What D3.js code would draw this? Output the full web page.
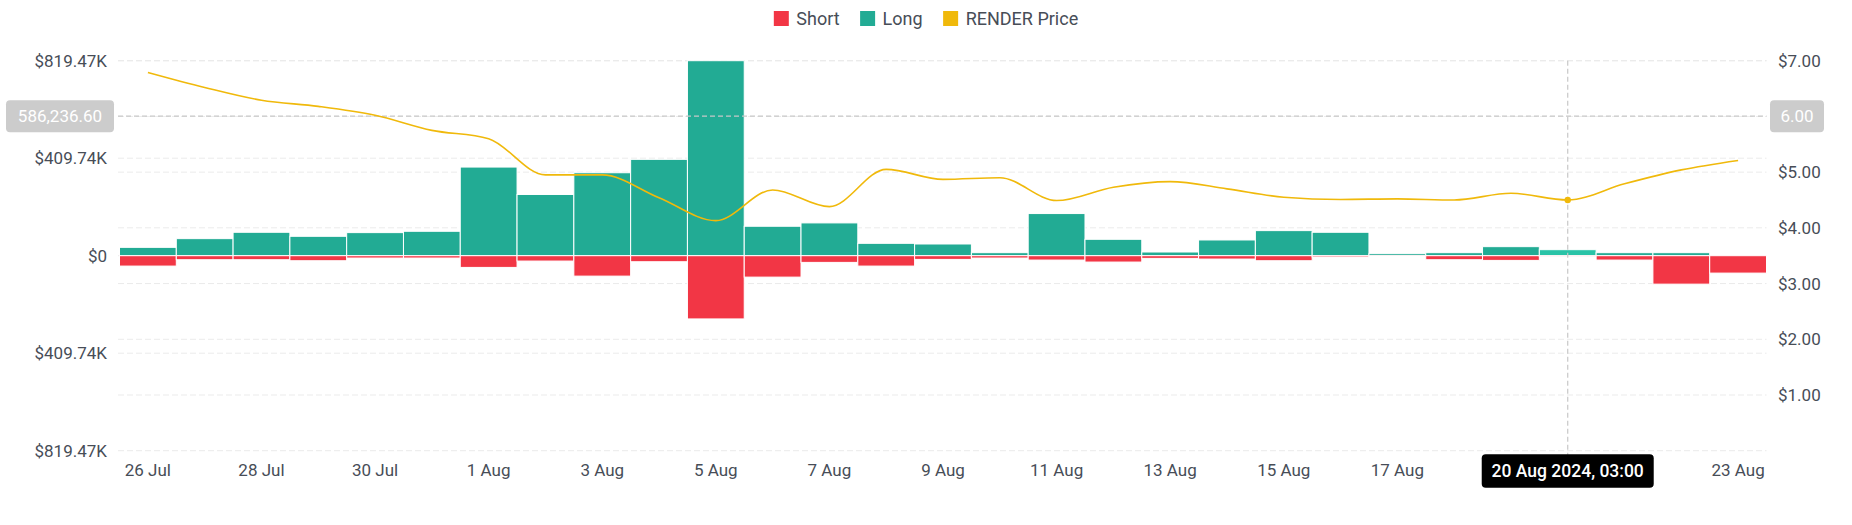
<!DOCTYPE html>
<html>
<head>
<meta charset="utf-8">
<script src="https://cdn.jsdelivr.net/npm/d3@7"></script>
<style>
  html, body { margin: 0; padding: 0; background: #ffffff; }
  svg { display: block; font-family: Roboto, "Noto Sans", sans-serif; }
</style>
</head>
<body>
<svg id="chart" width="1852" height="525"></svg>
<script>
// ---- data ----
const categories = ["2024-07-26","2024-07-27","2024-07-28","2024-07-29","2024-07-30","2024-07-31",
  "2024-08-01","2024-08-02","2024-08-03","2024-08-04","2024-08-05","2024-08-06","2024-08-07",
  "2024-08-08","2024-08-09","2024-08-10","2024-08-11","2024-08-12","2024-08-13","2024-08-14",
  "2024-08-15","2024-08-16","2024-08-17","2024-08-18","2024-08-19","2024-08-20","2024-08-21",
  "2024-08-22","2024-08-23"];
const longValues = [35100, 71700, 98400, 81500, 97000, 102600, 372500, 257300, 348600, 404900,
  819470, 123700, 137800, 52000, 49200, 12700, 177100, 68900, 15500, 66100, 105400, 98400,
  8400, 12700, 38000, 25300, 12700, 12700, 1000];
const shortValues = [43600, 16900, 16900, 21100, 9800, 9800, 49200, 22500, 85800, 25300,
  265700, 90000, 28100, 43600, 15500, 9800, 18300, 26700, 11200, 14100, 21100, 5600,
  4200, 16900, 19700, 2800, 18300, 119500, 73100];
const priceValues = [6.79, 6.52, 6.29, 6.18, 6.02, 5.75, 5.60, 4.95, 4.95, 4.54, 4.13, 4.68,
  4.38, 5.05, 4.87, 4.90, 4.49, 4.73, 4.83, 4.70, 4.55, 4.51, 4.52, 4.50, 4.62, 4.50, 4.79,
  5.04, 5.21];
const priceTicks = [1, 2, 3, 4, 5, 6, 7];
const legendItems = ["Short", "Long", "RENDER Price"];
const hoverIndex = 25;
const hoverValue = 586236.60;
const hoverLabel = "20 Aug 2024, 03:00";

// ---- styles ----
const C_LONG = "#22ab94", C_LONG_HOVER = "#2ac3a7", C_SHORT = "#f23645", C_PRICE = "#f0b90b";
const C_TEXT = "#474d57", C_GRID = "#ebebeb", C_CROSS = "#c8c8c8";

const svg = d3.select("#chart");
const plotLeft = 119.5, plotRight = 1766.5, plotTop = 60.7, plotBottom = 450.7;

const parse = d3.timeParse("%Y-%m-%d");
const dates = categories.map(parse);
const x = d3.scaleBand().domain(categories).range([plotLeft, plotRight]).padding(0);
const maxAbs = d3.max([d3.max(longValues), d3.max(shortValues)]);
const yL = d3.scaleLinear().domain([-maxAbs, maxAbs]).range([plotBottom, plotTop]);
const yR = d3.scaleLinear().domain([0, 7]).range([plotBottom, plotTop]);
const leftTicks = [-maxAbs, -maxAbs / 2, 0, maxAbs / 2, maxAbs];
const fmtK = v => v === 0 ? "$0" : "$" + (Math.abs(v) / 1000).toFixed(2) + "K";

const cx = x(categories[hoverIndex]) + x.bandwidth() / 2;
const cy = yL(hoverValue);

// gridlines
const grid = svg.append("g");
leftTicks.forEach(t => grid.append("line").attr("x1", 118).attr("x2", plotRight)
  .attr("y1", yL(t)).attr("y2", yL(t)).attr("stroke", C_GRID).attr("stroke-dasharray", "6,3"));
priceTicks.forEach(t => grid.append("line").attr("x1", 118).attr("x2", plotRight)
  .attr("y1", yR(t)).attr("y2", yR(t)).attr("stroke", C_GRID).attr("stroke-dasharray", "6,3"));

// left axis labels
const yAxisL = d3.axisLeft(yL).tickValues(leftTicks).tickFormat(fmtK).tickSize(0).tickPadding(0);
const gL = svg.append("g").attr("transform", "translate(107,0)").call(yAxisL);
gL.select(".domain").remove();
gL.selectAll("text").attr("font-size", 17).attr("fill", C_TEXT).attr("font-family", "Roboto");

// right axis labels (the one under the crosshair value badge is hidden, as in the reference)
const visiblePriceTicks = priceTicks.filter(t => Math.abs(yR(t) - cy) > 16);
const yAxisR = d3.axisRight(yR).tickValues(visiblePriceTicks).tickFormat(d => "$" + d.toFixed(2)).tickSize(0).tickPadding(0);
const gR = svg.append("g").attr("transform", "translate(1778,0)").call(yAxisR);
gR.select(".domain").remove();
gR.selectAll("text").attr("font-size", 17).attr("fill", C_TEXT).attr("font-family", "Roboto");

// bars
const bars = svg.append("g");
bars.selectAll("rect.long").data(categories).join("rect").attr("class", "long")
  .attr("x", d => x(d)).attr("width", x.bandwidth())
  .attr("y", (d, i) => yL(longValues[i]))
  .attr("height", (d, i) => yL(0) - yL(longValues[i]))
  .attr("fill", (d, i) => i === hoverIndex ? C_LONG_HOVER : C_LONG)
  .attr("stroke", "#ffffff").attr("stroke-width", 1);
bars.selectAll("rect.short").data(categories).join("rect").attr("class", "short")
  .attr("x", d => x(d)).attr("width", x.bandwidth())
  .attr("y", yL(0))
  .attr("height", (d, i) => yL(-shortValues[i]) - yL(0))
  .attr("fill", C_SHORT)
  .attr("stroke", "#ffffff").attr("stroke-width", 1);

// crosshair lines
svg.append("line").attr("x1", 118).attr("x2", plotRight).attr("y1", cy).attr("y2", cy)
  .attr("stroke", C_CROSS).attr("stroke-width", 1.2).attr("stroke-dasharray", "5,3");
svg.append("line").attr("x1", cx).attr("x2", cx).attr("y1", plotTop).attr("y2", 455)
  .attr("stroke", C_CROSS).attr("stroke-width", 1.2).attr("stroke-dasharray", "5,3");

// price line
const line = d3.line()
  .x((d, i) => x(categories[i]) + x.bandwidth() / 2)
  .y(d => yR(d))
  .curve(d3.curveMonotoneX);
svg.append("path").datum(priceValues).attr("d", line)
  .attr("fill", "none").attr("stroke", C_PRICE).attr("stroke-width", 1.6);
svg.append("circle").attr("cx", cx).attr("cy", yR(priceValues[hoverIndex])).attr("r", 3.2)
  .attr("fill", C_PRICE);

// x axis labels (every 2 days)
const tipW = 172, tipH = 33.4, tipX = cx - tipW / 2, tipY = 454.3;
const fmtDay = d3.timeFormat("%-d %b");
const xl = svg.append("g");
categories.forEach((c, i) => {
  if (i % 2 !== 0) return;
  const px = x(c) + x.bandwidth() / 2;
  if (px - 28 > tipX && px + 28 < tipX + tipW + 4) return; // hidden below the tooltip
  xl.append("text").attr("x", px).attr("y", 470).attr("dy", "0.35em")
    .attr("text-anchor", "middle").attr("font-size", 17).attr("fill", C_TEXT)
    .text(fmtDay(dates[i]));
});

// crosshair labels
svg.append("rect").attr("x", 6).attr("y", cy - 16).attr("width", 108).attr("height", 32)
  .attr("rx", 4).attr("fill", "#cccccc");
svg.append("text").attr("x", 60).attr("y", cy).attr("dy", "0.35em").attr("text-anchor", "middle")
  .attr("font-size", 17).attr("fill", "#ffffff").text(d3.format(",.2f")(hoverValue));
svg.append("rect").attr("x", 1770).attr("y", cy - 16).attr("width", 54).attr("height", 32)
  .attr("rx", 4).attr("fill", "#cccccc");
svg.append("text").attr("x", 1797).attr("y", cy).attr("dy", "0.35em").attr("text-anchor", "middle")
  .attr("font-size", 17).attr("fill", "#ffffff").text(yR.invert(cy).toFixed(2));

svg.append("rect").attr("x", tipX).attr("y", tipY).attr("width", tipW).attr("height", tipH)
  .attr("rx", 4).attr("fill", "#000000");
svg.append("text").attr("x", cx).attr("y", tipY + tipH / 2).attr("dy", "0.35em")
  .attr("text-anchor", "middle").attr("font-size", 17.5).attr("font-weight", 500)
  .attr("fill", "#ffffff").text(hoverLabel);

// legend
const legendColors = [C_SHORT, C_LONG, C_PRICE];
const lg = svg.append("g");
let lx = 0;
legendItems.forEach((name, i) => {
  const g = lg.append("g");
  g.append("rect").attr("x", 0).attr("y", 11).attr("width", 15).attr("height", 15).attr("fill", legendColors[i]);
  const t = g.append("text").attr("x", 22.5).attr("y", 18.5).attr("dy", "0.35em")
    .attr("font-size", 18).attr("fill", C_TEXT).text(name);
  const w = 22.5 + t.node().getComputedTextLength();
  g.attr("transform", `translate(${lx},0)`);
  lx += w + 20.5;
});
const totalW = lx - 20.5;
lg.attr("transform", `translate(${926 - totalW / 2},0)`);
</script>
</body>
</html>
